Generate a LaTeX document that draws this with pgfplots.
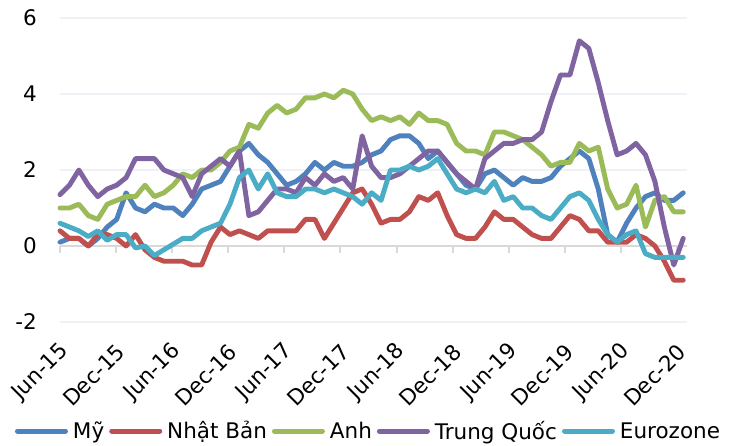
\documentclass[border=0pt]{standalone}
\usepackage{fontspec}
\setmainfont{DejaVu Sans}
\usepackage{pgfplots}
\usepackage{pgfplotstable}
\pgfplotsset{compat=1.18}
\definecolor{cus}{HTML}{4F81BD}
\definecolor{cjp}{HTML}{C0504D}
\definecolor{cuk}{HTML}{9BBB59}
\definecolor{ccn}{HTML}{8064A2}
\definecolor{cez}{HTML}{4BACC6}
\definecolor{gridc}{HTML}{EEF1F6}
\definecolor{axc}{HTML}{D9D9D9}
\pgfplotstableread{
x us jp uk cn ez
0 0.1 0.4 1.0 1.35 0.6
1 0.2 0.2 1.0 1.6 0.5
2 0.2 0.2 1.1 2.0 0.4
3 0.0 0.0 0.8 1.6 0.25
4 0.2 0.3 0.7 1.3 0.4
5 0.5 0.3 1.1 1.5 0.15
6 0.7 0.2 1.2 1.6 0.3
7 1.4 0.0 1.3 1.8 0.3
8 1.0 0.3 1.3 2.3 -0.05
9 0.9 -0.1 1.6 2.3 0.0
10 1.1 -0.3 1.3 2.3 -0.25
11 1.0 -0.4 1.4 2.0 -0.1
12 1.0 -0.4 1.6 1.9 0.05
13 0.8 -0.4 1.9 1.8 0.2
14 1.1 -0.5 1.8 1.3 0.2
15 1.5 -0.5 2.0 1.9 0.4
16 1.6 0.1 2.0 2.1 0.5
17 1.7 0.5 2.2 2.3 0.6
18 2.1 0.3 2.5 2.1 1.1
19 2.5 0.4 2.6 2.5 1.8
20 2.7 0.3 3.2 0.8 2.0
21 2.4 0.2 3.1 0.9 1.5
22 2.2 0.4 3.5 1.2 1.9
23 1.9 0.4 3.7 1.5 1.4
24 1.6 0.4 3.5 1.5 1.3
25 1.7 0.4 3.6 1.4 1.3
26 1.9 0.7 3.9 1.8 1.5
27 2.2 0.7 3.9 1.6 1.5
28 2.0 0.2 4.0 1.9 1.4
29 2.2 0.6 3.9 1.7 1.5
30 2.1 1.0 4.1 1.8 1.4
31 2.1 1.4 4.0 1.5 1.3
32 2.2 1.5 3.6 2.9 1.1
33 2.4 1.1 3.3 2.1 1.4
34 2.5 0.6 3.4 1.8 1.2
35 2.8 0.7 3.3 1.8 2.0
36 2.9 0.7 3.4 1.9 2.0
37 2.9 0.9 3.2 2.1 2.1
38 2.7 1.3 3.5 2.3 2.0
39 2.3 1.2 3.3 2.5 2.1
40 2.5 1.4 3.3 2.5 2.3
41 2.2 0.8 3.2 2.2 1.9
42 1.9 0.3 2.7 1.9 1.5
43 1.6 0.2 2.5 1.7 1.4
44 1.5 0.2 2.5 1.5 1.5
45 1.9 0.5 2.4 2.3 1.4
46 2.0 0.9 3.0 2.5 1.7
47 1.8 0.7 3.0 2.7 1.2
48 1.6 0.7 2.9 2.7 1.3
49 1.8 0.5 2.8 2.8 1.0
50 1.7 0.3 2.6 2.8 1.0
51 1.7 0.2 2.4 3.0 0.8
52 1.8 0.2 2.1 3.8 0.7
53 2.1 0.5 2.2 4.5 1.0
54 2.3 0.8 2.2 4.5 1.3
55 2.5 0.7 2.7 5.4 1.4
56 2.3 0.4 2.5 5.2 1.2
57 1.5 0.4 2.6 4.3 0.7
58 0.3 0.1 1.5 3.3 0.3
59 0.1 0.1 1.0 2.4 0.1
60 0.6 0.1 1.1 2.5 0.3
61 1.0 0.3 1.6 2.7 0.4
62 1.3 0.2 0.5 2.4 -0.2
63 1.4 0.0 1.2 1.7 -0.3
64 1.2 -0.4 1.3 0.5 -0.3
65 1.2 -0.9 0.9 -0.5 -0.3
66 1.4 -0.9 0.9 0.2 -0.3
}\datatable
\begin{document}
\begin{tikzpicture}
\useasboundingbox (0,0) rectangle (738pt,445pt);
\begin{axis}[
  at={(60pt,123pt)}, anchor=south west,
  scale only axis, width=627pt, height=304pt,
  xmin=0, xmax=66.4, ymin=-2, ymax=6,
  clip=false,
  axis line style={draw=none},
  major tick length=0pt,
  ytick={-2,0,2,4,6}, yticklabels={-2,0,2,4,6},
  ymajorgrids, grid style={draw=gridc, line width=1.5pt},
  xtick={0,5.94,11.88,17.82,23.76,29.70,35.64,41.58,47.52,53.46,59.40,65.34},
  xticklabels={Jun-15,Dec-15,Jun-16,Dec-16,Jun-17,Dec-17,Jun-18,Dec-18,Jun-19,Dec-19,Jun-20,Dec-20},
  font=\fontsize{21.5}{25}\selectfont,
  yticklabel style={anchor=east, inner sep=0pt, xshift=-23pt},
  xticklabel style={inner sep=0pt, xshift=5pt, yshift=-26pt, rotate=45, anchor=east},
  legend columns=5,
  legend style={at={(0.4904,-0.3586)}, anchor=center, draw=none, fill=none,
    font=\fontsize{21.5}{25}\selectfont,
    nodes={inner sep=0pt},
    /tikz/every even column/.append style={column sep=5pt},
    /tikz/every odd column/.append style={column sep=5pt}},
  legend image code/.code={\draw[#1, line width=5pt, line cap=round] (0pt,0pt) -- (48pt,0pt);},
  every axis plot/.append style={line width=4.9pt, line join=round, line cap=round},
]
\draw[color=axc, line width=2.5pt] (axis cs:0,0) -- (axis cs:66.4,0);
\pgfplotsinvokeforeach{0,5.94,11.88,17.82,23.76,29.70,35.64,41.58,47.52,53.46,59.40,65.34}{
  \draw[color=axc, line width=2pt] (axis cs:#1,0) -- ++(0pt,-7pt);
}
\addplot[cus] table[x=x, y=us] {\datatable};
\addlegendentry{Mỹ}
\addplot[cjp] table[x=x, y=jp] {\datatable};
\addlegendentry{Nhật Bản}
\addplot[cuk] table[x=x, y=uk] {\datatable};
\addlegendentry{Anh}
\addplot[ccn] table[x=x, y=cn] {\datatable};
\addlegendentry{Trung Quốc}
\addplot[cez] table[x=x, y=ez] {\datatable};
\addlegendentry{Eurozone}
\end{axis}
\end{tikzpicture}
\end{document}
